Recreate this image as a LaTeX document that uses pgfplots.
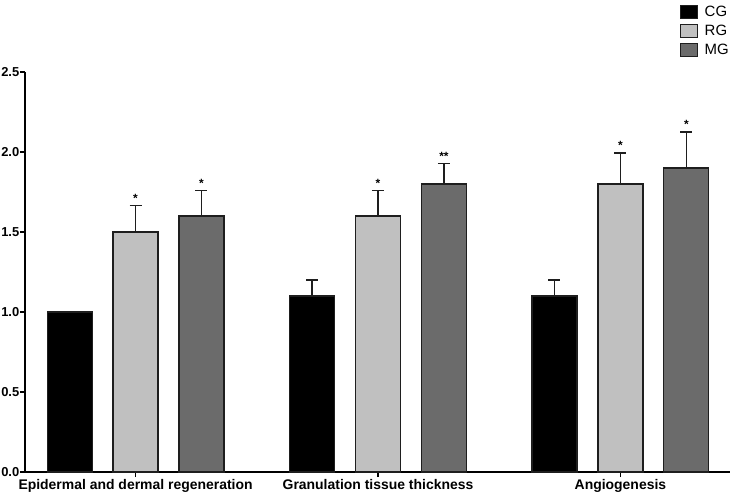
\documentclass[border=0pt]{standalone}
\usepackage{fontspec}
\setmainfont{Liberation Sans}
\usepackage{pgfplots}
\pgfplotsset{compat=1.18}
\definecolor{cg}{HTML}{000000}
\definecolor{rg}{HTML}{C0C0C0}
\definecolor{mg}{HTML}{6B6B6B}
\definecolor{edge}{HTML}{1E1E1E}

\begin{document}
\begin{tikzpicture}
\begin{axis}[
    at={(0,0)}, anchor=south west,
    scale only axis,
    width=705bp, height=400bp,
    xmin=-0.456, xmax=2.452,
    ymin=0, ymax=2.5,
    clip=false,
    axis lines*=left,
    axis line style={line width=1.3bp},
    tick align=outside,
    major tick length=5bp,
    tick style={line width=1.2bp, black},
    xtick={0,1,2},
    xticklabels={Epidermal and dermal regeneration, Granulation tissue thickness, Angiogenesis},
    ytick={0,0.5,1,1.5,2,2.5},
    /pgf/number format/fixed,
    /pgf/number format/fixed zerofill,
    /pgf/number format/precision=1,
    /pgf/number format/assume math mode=true,
    yticklabel style={font=\bfseries\fontsize{13}{14}\selectfont, inner sep=0.5bp},
    xticklabel style={font=\bfseries\fontsize{14}{16}\selectfont, inner sep=1bp, yshift=-1bp},
    bar width=45bp,
    legend style={at={(1,1)}, anchor=south east, yshift=14bp, xshift=1bp,
        draw=none, fill=none, font=\fontsize{15}{17}\selectfont,
        row sep=3bp, inner sep=0pt, cells={anchor=west}},
    legend image code/.code={\draw[#1] (0bp,-6.5bp) rectangle (17bp,6.5bp); \path (22bp,0bp);},
    error bars/error bar style={line width=1.4bp, edge},
    error bars/error mark options={rotate=90, line width=1.4bp, mark size=6bp, edge},
]
% bars at explicit positions: group centre -/+ 0.272
\addplot[ybar, bar shift=0bp, fill=cg, draw=edge, line width=1.2bp,
    error bars/.cd, y dir=plus, y explicit]
    coordinates {(-0.272,1.0) +- (0,0) (0.728,1.1) +- (0,0.1) (1.728,1.1) +- (0,0.1)};
\addplot[ybar, bar shift=0bp, fill=rg, draw=edge, line width=1.2bp,
    error bars/.cd, y dir=plus, y explicit]
    coordinates {(0,1.5) +- (0,0.165) (1,1.6) +- (0,0.158) (2,1.8) +- (0,0.194)};
\addplot[ybar, bar shift=0bp, fill=mg, draw=edge, line width=1.2bp,
    error bars/.cd, y dir=plus, y explicit]
    coordinates {(0.272,1.6) +- (0,0.158) (1.272,1.8) +- (0,0.128) (2.272,1.9) +- (0,0.226)};
\legend{CG, RG, MG}

% significance marks above the error bars
\addplot[forget plot, draw=none, mark=none, nodes near coords, point meta=explicit symbolic,
    every node near coord/.append style={anchor=south, inner sep=0pt, yshift=3bp,
        font=\bfseries\fontsize{12}{13}\selectfont}]
    coordinates {(0,1.665)[*] (1,1.758)[*] (2,1.994)[*]
                 (0.272,1.758)[*] (1.272,1.928)[**] (2.272,2.126)[*]};
\end{axis}
\pgfresetboundingbox
\path (-25bp,-23bp) rectangle (706bp,472bp);
\end{tikzpicture}
\end{document}
